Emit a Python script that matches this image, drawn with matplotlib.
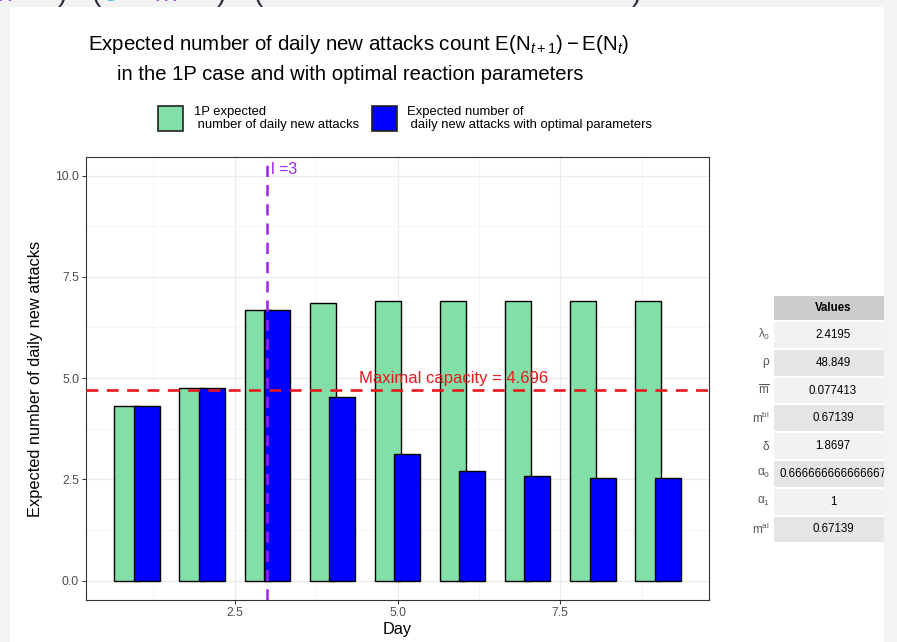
import numpy as np
import matplotlib.pyplot as plt
from matplotlib.patches import Rectangle

plt.rcParams['font.family'] = ['Liberation Sans', 'DejaVu Sans']
plt.rcParams['mathtext.fontset'] = 'custom'
plt.rcParams['mathtext.rm'] = 'Liberation Sans'
plt.rcParams['mathtext.it'] = 'Liberation Sans:italic'

# expected daily new attacks per day
days = np.arange(1, 10)
expected_1p = [4.30, 4.75, 6.68, 6.85, 6.90, 6.91, 6.91, 6.91, 6.91]
expected_opt = [4.30, 4.75, 6.68, 4.54, 3.13, 2.71, 2.57, 2.54, 2.53]
max_capacity = 4.696
l_day = 3

# parameter table
param_names = [r'$\mathregular{\lambda_0}$', r'$\mathregular{\rho}$', r'$\overline{\mathrm{m}}$',
               r'$\mathregular{m^{bl}}$', r'$\mathregular{\delta}$', r'$\mathregular{\alpha_0}$',
               r'$\mathregular{\alpha_1}$', r'$\mathregular{m^{al}}$']
param_values = ['2.4195', '48.849', '0.077413', '0.67139', '1.8697',
                '0.666666666666667', '1', '0.67139']

W, H = 897, 642
fig = plt.figure(figsize=(W / 100, H / 100), dpi=100, facecolor='#f3f3f3')


def fx(px):
    return px / W


def fy(py):
    return 1 - py / H


# white page
fig.patches.append(Rectangle((fx(10), 0), fx(884) - fx(10), fy(7), transform=fig.transFigure,
                             facecolor='white', edgecolor='none', zorder=-1))

# bits of the formula above
top_bits = [(r'$n$', -2, '#a34fd6'), (')', 58, '#2b2b3a'), ('(', 91, '#2b2b3a'),
            (r'$\delta$', 103, '#3cb6e3'), (r'$m$', 155, '#a34fd6'), (')', 217, '#2b2b3a'),
            ('(', 253, '#2b2b3a'), (')', 632, '#2b2b3a')]
for s, px, c in top_bits:
    fig.text(fx(px), fy(1), s, fontsize=20, color=c, va='baseline', ha='left', zorder=12)

# titles
fig.text(fx(359), fy(45), r'Expected number of daily new attacks count E$(\mathrm{N}_{t+1})-$E$(\mathrm{N}_{t})$',
         fontsize=14.8, ha='center', va='center')
fig.text(fx(350), fy(74), 'in the 1P case and with optimal reaction parameters',
         fontsize=14.6, ha='center', va='center')

# legend
green = '#82dfa8'
blue = '#0000ff'
fig.patches.append(Rectangle((fx(158), fy(131)), fx(25), 25 / H, transform=fig.transFigure,
                             facecolor=green, edgecolor='#222222', lw=1.2, zorder=3))
fig.patches.append(Rectangle((fx(372), fy(131)), fx(25), 25 / H, transform=fig.transFigure,
                             facecolor=blue, edgecolor='#222222', lw=1.2, zorder=3))
fig.text(fx(194), fy(118.5), '1P expected\n number of daily new attacks', fontsize=9.4,
         ha='left', va='center', linespacing=1.15)
fig.text(fx(407), fy(118.5), 'Expected number of\n daily new attacks with optimal parameters', fontsize=9.4,
         ha='left', va='center', linespacing=1.15)

# main panel
ax = fig.add_axes([fx(86), fy(600), fx(709) - fx(86), (600 - 157) / H])
ax.bar(days - 0.15, expected_1p, width=0.4, color=green, edgecolor='black', lw=1.0, zorder=3)
ax.bar(days + 0.15, expected_opt, width=0.4, color=blue, edgecolor='black', lw=1.0, zorder=4)
ax.axhline(max_capacity, color='#e8181c', lw=1.9, dashes=(4.5, 3.2), zorder=5)
ax.axvline(l_day, color='#a020f0', lw=1.8, dashes=(4.5, 3.2), zorder=5)
ax.text(5.86, 4.98, f'Maximal capacity = {max_capacity}', color='#e8181c', fontsize=12,
        ha='center', va='center', zorder=6)
ax.text(l_day + 0.06, 10.14, 'l =3', color='#a020f0', fontsize=11.5, ha='left', va='center', zorder=6)

ax.set_xlim(0.215, 9.785)
ax.set_ylim(-0.48, 10.46)
ax.set_xticks([2.5, 5.0, 7.5])
ax.set_xticks([1.25, 3.75, 6.25, 8.75], minor=True)
ax.set_yticks([0, 2.5, 5.0, 7.5, 10.0])
ax.set_yticks([1.25, 3.75, 6.25, 8.75], minor=True)
ax.set_xticklabels(['2.5', '5.0', '7.5'])
ax.set_yticklabels(['0.0', '2.5', '5.0', '7.5', '10.0'])
ax.grid(which='major', color='#ebebeb', lw=0.9, zorder=0)
ax.grid(which='minor', color='#f4f4f4', lw=0.6, zorder=0)
ax.set_axisbelow(True)
ax.tick_params(which='major', length=3, width=0.7, color='#333333', labelsize=8.8,
               labelcolor='#4d4d4d', pad=2)
ax.tick_params(which='minor', length=0)
for sp in ax.spines.values():
    sp.set_color('#333333')
    sp.set_linewidth(0.8)
ax.set_xlabel('Day', fontsize=11.8, labelpad=2)
ax.set_ylabel('Expected number of daily new attacks', fontsize=11.8, labelpad=9)

# parameter table
col_l, col_r = 773, 893
head_top, head_bot = 295, 321
row_h = 27.8
fig.patches.append(Rectangle((fx(col_l), fy(head_bot)), fx(col_r - col_l), (head_bot - head_top) / H,
                             transform=fig.transFigure, facecolor='#cccccc', edgecolor='white',
                             lw=1.5, zorder=3))
fig.text(fx((col_l + col_r) / 2), fy((head_top + head_bot) / 2), 'Values', fontsize=8.3,
         fontweight='bold', ha='center', va='center', zorder=4)
for i, (name, val) in enumerate(zip(param_names, param_values)):
    top = head_bot + i * row_h
    fill = '#f2f2f2' if i % 2 == 0 else '#e5e5e5'
    fig.patches.append(Rectangle((fx(col_l), fy(top + row_h)), fx(col_r - col_l), row_h / H,
                                 transform=fig.transFigure, facecolor=fill, edgecolor='white',
                                 lw=1.5, zorder=3))
    fig.text(fx(col_l - 3), fy(top + row_h / 2), name, fontsize=8.5, color='#555555',
             ha='right', va='center', zorder=4)
    fig.text(fx((col_l + col_r) / 2), fy(top + row_h / 2), val, fontsize=8.3,
             ha='center', va='center', zorder=4)

# outer margin on the right
fig.patches.append(Rectangle((fx(884), 0), fx(W - 884), 1, transform=fig.transFigure,
                             facecolor='#f3f3f3', edgecolor='none', zorder=10))

fig.savefig('out.png', dpi=100, facecolor=fig.get_facecolor())
